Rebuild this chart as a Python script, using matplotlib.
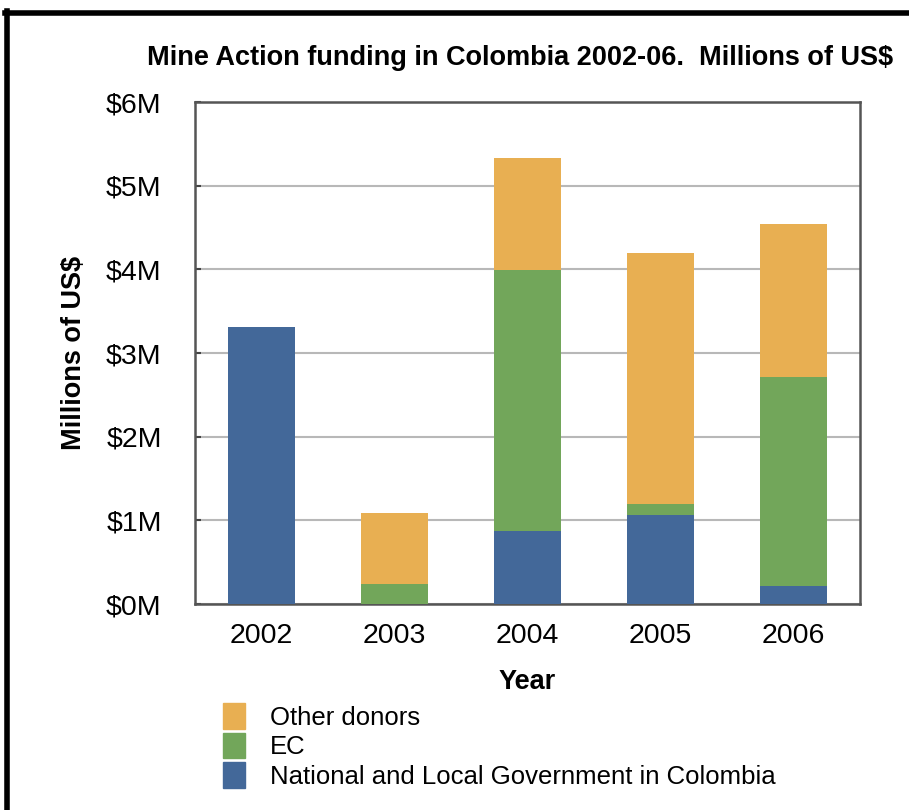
import numpy as np
import matplotlib
matplotlib.use("Agg")
import matplotlib.pyplot as plt
from matplotlib.lines import Line2D
from matplotlib.patches import Patch

plt.rcParams['font.family'] = ['Liberation Sans', 'DejaVu Sans']

# data (millions of US$)
years = ["2002", "2003", "2004", "2005", "2006"]
gov = [3.31, 0.0, 0.87, 1.07, 0.22]
ec = [0.0, 0.24, 3.12, 0.12, 2.49]
other = [0.0, 0.85, 1.34, 3.00, 1.83]
yticks = [0, 1, 2, 3, 4, 5, 6]
ytick_labels = ["$0M", "$1M", "$2M", "$3M", "$4M", "$5M", "$6M"]

c_gov = "#436899"
c_ec = "#72A65A"
c_other = "#E8AF52"

fig = plt.figure(figsize=(9.09, 8.10), dpi=100)
ax = fig.add_axes([0.2145, 0.2543, 0.7315, 0.6197])

x = np.arange(len(years))
gov = np.array(gov)
ec = np.array(ec)
other = np.array(other)
w = 0.51
ax.bar(x, gov, w, color=c_gov, zorder=3)
ax.bar(x, ec, w, bottom=gov, color=c_ec, zorder=3)
ax.bar(x, other, w, bottom=gov + ec, color=c_other, zorder=3)

ax.set_xlim(-0.5, len(years) - 0.5)
ax.set_ylim(0, 6)
ax.set_yticks(yticks)
ax.set_yticklabels(ytick_labels, fontsize=20.5)
ax.set_xticks(x)
ax.set_xticklabels(years, fontsize=20.5)
ax.tick_params(axis="y", direction="in", length=4, width=1.5, pad=24, color="#444444")
ax.tick_params(axis="x", length=0, pad=14)
ax.yaxis.grid(True, color="#b8b8b8", linewidth=1.5, zorder=0)
for s in ax.spines.values():
    s.set_color("#555555")
    s.set_linewidth(1.8)

ax.set_ylabel("Millions of US$", fontsize=19.5, fontweight="bold", labelpad=14)
ax.set_xlabel("Year", fontsize=19.5, fontweight="bold", labelpad=14)
fig.text(0.572, 0.929, "Mine Action funding in Colombia 2002-06.  Millions of US$",
         ha="center", va="center", fontsize=19.5, fontweight="bold")

handles = [Patch(color=c_other, label="Other donors"),
           Patch(color=c_ec, label="EC"),
           Patch(color=c_gov, label="National and Local Government in Colombia")]
fig.legend(handles=handles, loc="upper left", bbox_to_anchor=(0.245, 0.132),
           bbox_transform=fig.transFigure, frameon=False, fontsize=18.5,
           handlelength=0.85, handleheight=1.15, labelspacing=0.12, handletextpad=1.0,
           borderaxespad=0, borderpad=0)

# outer black frame (top and left)
fig.add_artist(Line2D([0.005, 1.0], [0.9845, 0.9845], color="black", linewidth=4, transform=fig.transFigure))
fig.add_artist(Line2D([0.0075, 0.0075], [0.0, 0.987], color="black", linewidth=4, transform=fig.transFigure))

fig.savefig("out.png", dpi=100)
